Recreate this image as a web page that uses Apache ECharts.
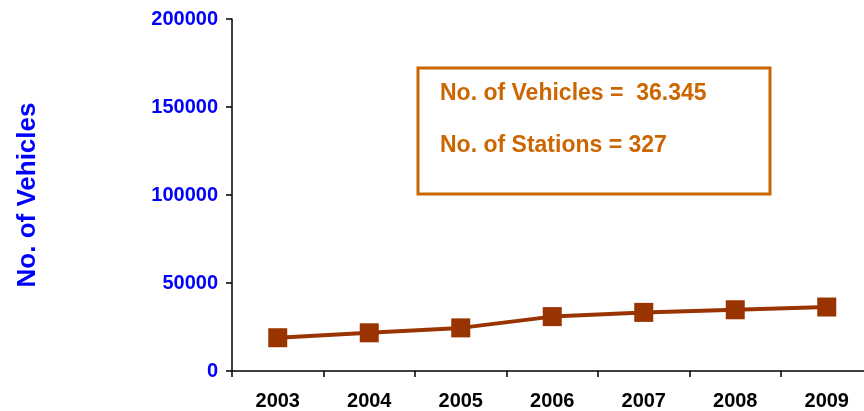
<!DOCTYPE html>
<html><head><meta charset="utf-8">
<script src="https://cdn.jsdelivr.net/npm/echarts@6/dist/echarts.min.js"></script>
<style>html,body{margin:0;padding:0;background:#fff;overflow:hidden}#c{width:874px;height:411px}</style>
</head><body><div id="c"></div>
<script>
const years = ['2003','2004','2005','2006','2007','2008','2009'];
const vehicles = [18900, 21700, 24500, 30900, 33300, 34800, 36345];
const yTicks = [0, 50000, 100000, 150000, 200000];
const boxLines = ['No. of Vehicles =  36.345', 'No. of Stations = 327'];

const chart = echarts.init(document.getElementById('c'), null, {renderer:'canvas'});
const font = 'Arial, "Liberation Sans", sans-serif';
chart.setOption({
  animation: false,
  backgroundColor: '#fff',
  grid: {left: 232, top: 19, width: 640.5, height: 353, containLabel: false},
  xAxis: {
    type: 'category', data: years, boundaryGap: true,
    axisLine: {lineStyle: {color: '#000', width: 1.5}},
    axisTick: {show: true, length: 6, inside: false, lineStyle: {color: '#000', width: 1.5}},
    axisLabel: {color: '#000', fontWeight: 'bold', fontSize: 20, fontFamily: font, margin: 20}
  },
  yAxis: {
    type: 'value', min: yTicks[0], max: yTicks[yTicks.length-1], interval: yTicks[1]-yTicks[0],
    name: 'No. of Vehicles', nameLocation: 'middle', nameGap: 191, nameRotate: 90,
    nameTextStyle: {color: '#0000FF', fontWeight: 'bold', fontSize: 26, fontFamily: font},
    splitLine: {show: false},
    axisLine: {show: true, lineStyle: {color: '#000', width: 1.5}},
    axisTick: {show: true, length: 6, lineStyle: {color: '#000', width: 1.5}},
    axisLabel: {color: '#0000FF', fontWeight: 'bold', fontSize: 20, fontFamily: font, margin: 14,
      formatter: v => String(v)}
  },
  series: [{
    type: 'line', data: vehicles,
    symbol: 'rect', symbolSize: 19,
    lineStyle: {color: '#993300', width: 4},
    itemStyle: {color: '#993300'},
    clip: false
  }],
  graphic: [
    {type: 'rect', shape: {x: 418, y: 68, width: 352, height: 126},
     style: {fill: 'none', stroke: '#CC6600', lineWidth: 3}},
    {type: 'text', x: 440, y: 94, style: {text: boxLines[0], fill: '#CC6600', font: 'bold 23px ' + font, textVerticalAlign: 'middle'}},
    {type: 'text', x: 440, y: 146, style: {text: boxLines[1], fill: '#CC6600', font: 'bold 23px ' + font, textVerticalAlign: 'middle'}}
  ]
});
</script></body></html>
